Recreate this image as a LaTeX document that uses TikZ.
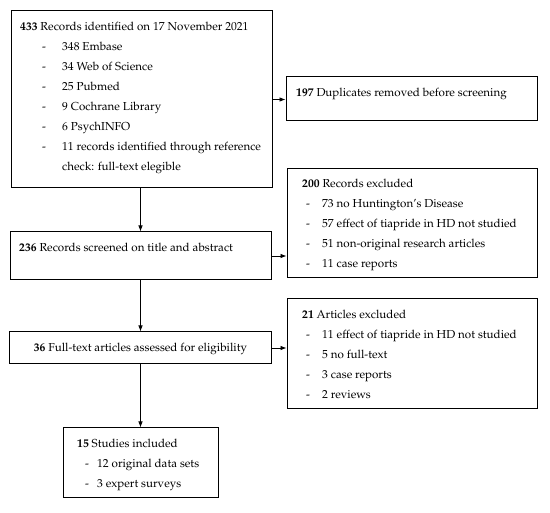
\documentclass[tikz,border=0pt]{standalone}
\usepackage[T1]{fontenc}
\usepackage{mathpazo}
\usetikzlibrary{arrows.meta}
\newcommand{\myitem}[3]{\hspace*{#1}\makebox[#2][l]{-}#3}
\newcommand{\myblock}[2]{\parbox[t]{#1}{\fontsize{11.6}{20}\selectfont\raggedright #2}}
\begin{document}
\begin{tikzpicture}[x=1pt,y=-1pt,
  box/.style={draw=black,line width=1pt,fill=none,inner sep=0pt,rectangle},
  txt/.style={inner sep=0pt,anchor=base west,font=\fontsize{11.6}{20}\selectfont},
  arr/.style={draw=black,line width=0.7pt,-{Latex[length=6pt,width=4.5pt]}}]
\useasboundingbox (0,0) rectangle (550,513);
% boxes
\node[box,minimum width=261pt,minimum height=177pt] (b1) at (141.5,99.5) {};
\node[box,minimum width=251pt,minimum height=44pt] (b197) at (411.5,99) {};
\node[box,minimum width=261pt,minimum height=48pt] (b236) at (140.5,256) {};
\node[box,minimum width=250pt,minimum height=109pt] (b200) at (412,223.5) {};
\node[box,minimum width=262pt,minimum height=32pt] (b36) at (140.5,348) {};
\node[box,minimum width=250pt,minimum height=110pt] (b21) at (412,354) {};
\node[box,minimum width=155pt,minimum height=70pt] (b15) at (140.5,463) {};
% texts
\node[txt] (t1) at (20,31) {\myblock{250pt}{\textbf{433} Records identified on 17 November 2021\\
\myitem{22pt}{20pt}{348 Embase}\\
\myitem{22pt}{20pt}{34 Web of Science}\\
\myitem{22pt}{20pt}{25 Pubmed}\\
\myitem{22pt}{20pt}{9 Cochrane Library}\\
\myitem{22pt}{20pt}{6 PsychINFO}\\
\myitem{22pt}{20pt}{11 records identified through reference}\\
\hspace*{42pt}check: full-text elegible}};
\node[txt] (t197) at (296,97) {\textbf{197} Duplicates removed before screening};
\node[txt] (t236) at (19,252) {\textbf{236} Records screened on title and abstract};
\node[txt,anchor=base] (t36) at (140.5,351.5) {\textbf{36} Full-text articles assessed for eligibility};
\node[txt] (t200) at (302,188) {\myblock{235pt}{\textbf{200} Records excluded\\
\myitem{4pt}{16pt}{73 no Huntington's Disease}\\
\myitem{4pt}{16pt}{57 effect of tiapride in HD not studied}\\
\myitem{4pt}{16pt}{51 non-original research articles}\\
\myitem{4pt}{16pt}{11 case reports}}};
\node[txt] (t21) at (302,319) {\myblock{235pt}{\textbf{21} Articles excluded\\
\myitem{4pt}{16pt}{11 effect of tiapride in HD not studied}\\
\myitem{4pt}{16pt}{5 no full-text}\\
\myitem{4pt}{16pt}{3 case reports}\\
\myitem{4pt}{16pt}{2 reviews}}};
\node[txt] (t15) at (77,448) {\myblock{140pt}{\textbf{15} Studies included\\
\myitem{8pt}{12pt}{12 original data sets}\\
\myitem{8pt}{12pt}{3 expert surveys}}};
% connectors
\draw[arr] (b1.east) -- (b1.east -| b197.west);
\draw[arr] (b1.south -| b236.north) -- (b236.north);
\draw[arr] (b236.east) -- (b236.east -| b200.west);
\draw[arr] (b236.south) -- (b36.north);
\draw[arr] (b36.east) -- (b36.east -| b21.west);
\draw[arr] (b36.south) -- (b15.north);
\end{tikzpicture}
\end{document}
